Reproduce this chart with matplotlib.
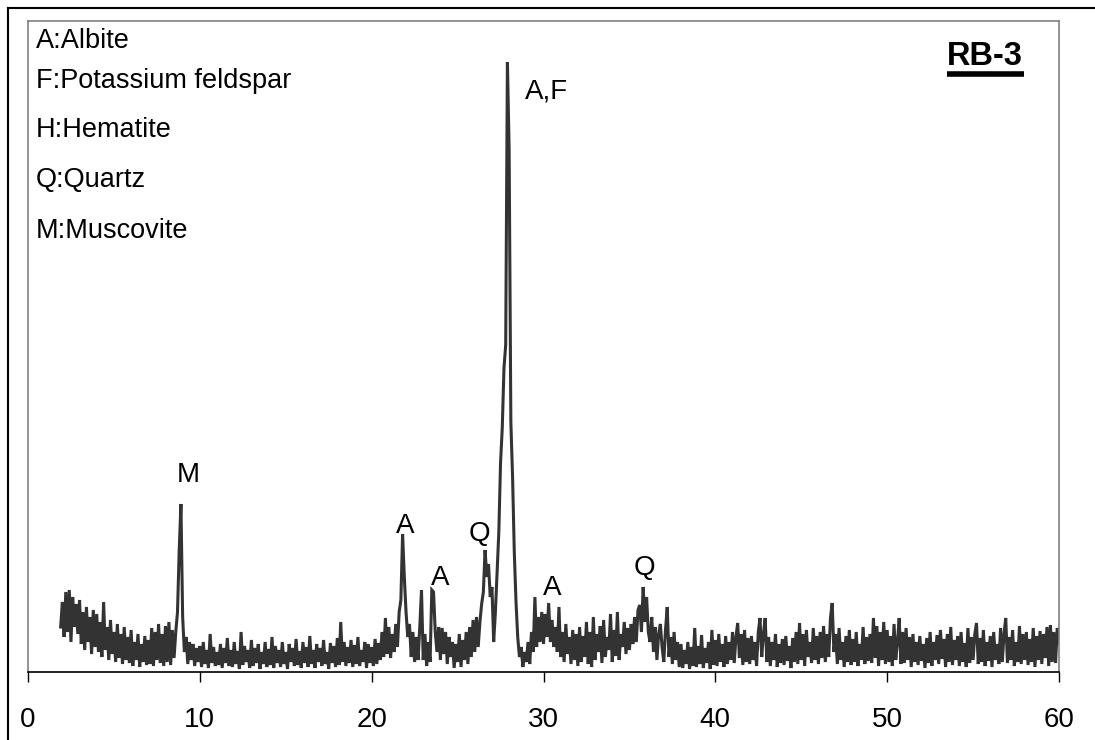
import numpy as np
import matplotlib
matplotlib.use('Agg')
import matplotlib.pyplot as plt
from matplotlib.lines import Line2D

plt.rcParams['font.family'] = ['Liberation Sans', 'DejaVu Sans']

# XRD pattern RB-3, 2-theta from 1.9 to 60.0 in 0.1 steps (intensity, arbitrary units)
intensity = [
    45,
    70, 35, 80, 40, 82, 30, 75, 45, 68, 38,   # 2
    72, 28, 60, 22, 65, 30, 55, 18, 62, 25,   # 3
    58, 20, 50, 15, 70, 22, 45, 12, 52, 18,   # 4
    40, 10, 48, 14, 38, 8, 45, 12, 35, 9,     # 5
    42, 6, 30, 12, 38, 5, 28, 10, 36, 7,      # 6
    32, 8, 44, 6, 40, 12, 48, 9, 38, 6,       # 7
    46, 10, 50, 7, 42, 14, 40, 60, 122, 168,  # 8
    55, 20, 35, 8, 30, 12, 28, 6, 24, 10,     # 9
    26, 5, 30, 8, 22, 4, 38, 9, 25, 6,        # 10
    20, 7, 28, 4, 24, 9, 34, 6, 22, 5,        # 11
    30, 8, 21, 3, 40, 7, 26, 10, 22, 4,       # 12
    32, 6, 24, 9, 28, 3, 20, 8, 30, 5,        # 13
    23, 7, 35, 4, 26, 9, 22, 5, 30, 8,        # 14
    20, 3, 28, 10, 24, 6, 33, 7, 21, 4,       # 15
    30, 9, 25, 5, 36, 8, 22, 4, 28, 10,       # 16
    24, 6, 32, 8, 20, 3, 29, 9, 26, 5,        # 17
    34, 7, 50, 10, 30, 6, 25, 9, 32, 5,       # 18
    27, 8, 35, 6, 22, 10, 30, 4, 28, 9,       # 19
    25, 6, 33, 8, 29, 12, 40, 15, 54, 18,     # 20
    45, 14, 38, 20, 48, 25, 60, 72, 138, 95,  # 21
    60, 35, 48, 15, 40, 10, 35, 12, 45, 82,   # 22
    12, 38, 6, 30, 10, 82, 80, 40, 20, 45,    # 23
    12, 44, 18, 40, 8, 35, 15, 30, 4, 28,     # 24
    10, 38, 5, 32, 12, 40, 8, 45, 15, 52,     # 25
    20, 55, 25, 50, 68, 80, 122, 95, 108, 75, # 26
    85, 30, 60, 100, 140, 209, 244, 304, 327, 610,  # 27
    522, 250, 195, 120, 70, 35, 15, 25, 5, 20,      # 28
    10, 30, 8, 40, 20, 75, 25, 55, 30, 60,    # 29
    28, 58, 35, 69, 30, 52, 25, 45, 20, 65,   # 30
    15, 40, 10, 48, 18, 35, 8, 42, 12, 38,    # 31
    6, 45, 10, 36, 15, 50, 8, 40, 5, 55,      # 32
    12, 38, 20, 46, 9, 52, 15, 35, 22, 58,    # 33
    10, 42, 16, 60, 12, 38, 25, 50, 18, 44,   # 34
    22, 48, 28, 55, 30, 62, 67, 40, 85, 50,   # 35
    75, 40, 30, 55, 20, 45, 12, 38, 48, 25,   # 36
    10, 42, 65, 15, 35, 8, 40, 12, 30, 5,     # 37
    28, 4, 22, 8, 30, 3, 25, 6, 44, 5,        # 38
    26, 8, 37, 4, 24, 9, 30, 3, 42, 7,        # 39
    32, 6, 38, 10, 28, 5, 36, 8, 30, 12,      # 40
    40, 9, 35, 49, 14, 38, 7, 42, 10, 34,     # 41
    8, 36, 12, 30, 6, 40, 54, 15, 38, 54,     # 42
    10, 35, 6, 30, 12, 38, 5, 28, 9, 33,      # 43
    7, 36, 11, 26, 4, 34, 10, 40, 8, 49,      # 44
    12, 38, 6, 42, 15, 30, 9, 44, 12, 36,     # 45
    8, 40, 14, 46, 10, 38, 15, 54, 69, 20,    # 46
    38, 8, 44, 12, 30, 5, 36, 10, 42, 7,      # 47
    33, 10, 40, 6, 28, 12, 45, 8, 35, 11,     # 48
    38, 9, 54, 14, 46, 6, 40, 12, 50, 8,      # 49
    42, 10, 36, 6, 48, 12, 30, 54, 8, 40,     # 50
    9, 44, 12, 35, 5, 38, 10, 30, 7, 36,      # 51
    11, 28, 4, 34, 9, 40, 6, 30, 12, 37,      # 52
    8, 42, 13, 33, 5, 38, 10, 45, 7, 32,      # 53
    12, 36, 6, 40, 10, 29, 5, 44, 9, 35,      # 54
    12, 38, 49, 8, 34, 10, 42, 6, 30, 11,     # 55
    36, 5, 40, 12, 28, 8, 44, 10, 38, 54,     # 56
    9, 35, 12, 42, 6, 30, 10, 46, 8, 38,      # 57
    12, 40, 7, 33, 10, 44, 5, 36, 12, 41,     # 58
    8, 38, 14, 45, 6, 47, 10, 40, 9, 44,      # 59
    30,
]
two_theta = np.round(np.linspace(1.9, 60.0, len(intensity)), 2)

# peak labels: (text, 2-theta, height)
peak_labels = [
    ('M', 9.3, 197),
    ('A', 21.95, 146),
    ('A', 24.0, 94),
    ('Q', 26.25, 138),
    ('A,F', 30.2, 580),
    ('A', 30.5, 84),
    ('Q', 35.9, 104),
]

phases = ['A:Albite', 'F:Potassium feldspar', 'H:Hematite', 'Q:Quartz', 'M:Muscovite']
phase_y = [0.970, 0.908, 0.832, 0.755, 0.678]

xticks = [0, 10, 20, 30, 40, 50, 60]

fig = plt.figure(figsize=(10.95, 7.40), dpi=100)
ax = fig.add_axes([28 / 1095, 1 - 672 / 740, (1059 - 28) / 1095, (672 - 21) / 740])

ax.plot(two_theta, intensity, color='#333333', linewidth=2.2, solid_joinstyle='miter')

ax.set_xlim(0, 60)
ax.set_ylim(0, 651)
ax.set_xticks(xticks)
ax.set_yticks([])
ax.tick_params(axis='x', direction='out', length=7.5, width=1, color='black',
               labelsize=20, pad=18)

for side in ['left', 'top', 'right']:
    ax.spines[side].set_color('#808080')
    ax.spines[side].set_linewidth(1.2)
ax.spines['bottom'].set_color('black')
ax.spines['bottom'].set_linewidth(1.2)

for txt, xx, yy in peak_labels:
    ax.text(xx, yy, txt, fontsize=20, ha='center', va='center', color='black')

for name, yy in zip(phases, phase_y):
    ax.text(0.0078, yy, name, fontsize=19.5, ha='left', va='center', transform=ax.transAxes)

ax.text(0.928, 0.946, 'RB-3', fontsize=23.5, fontweight='bold', ha='center', va='center',
        transform=ax.transAxes)
ax.plot([0.891, 0.966], [0.918, 0.918], color='black', linewidth=4,
        transform=ax.transAxes, solid_capstyle='butt', clip_on=False)

# outer frame (cut off at right and bottom)
fx = 7.5 / 1095
fy = 1 - 7.5 / 740
fig.add_artist(Line2D([fx, 1], [fy, fy], color='black', linewidth=1.5, transform=fig.transFigure))
fig.add_artist(Line2D([fx, fx], [fy, 0], color='black', linewidth=1.5, transform=fig.transFigure))

fig.savefig('out.png', dpi=100)
